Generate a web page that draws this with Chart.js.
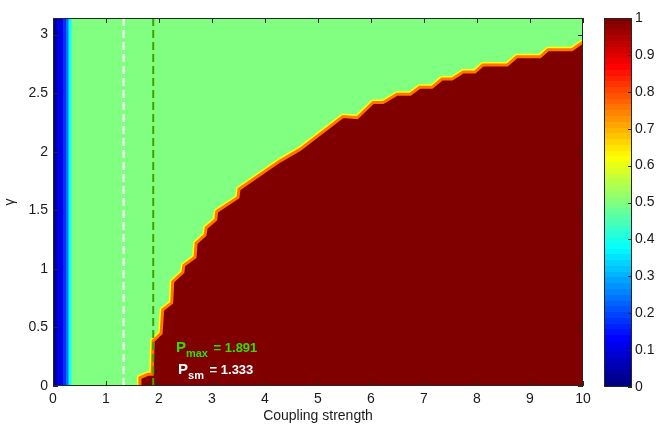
<!DOCTYPE html>
<html>
<head>
<meta charset="utf-8">
<script src="https://cdn.jsdelivr.net/npm/chart.js@4.4.0/dist/chart.umd.min.js"></script>
<style>
  html, body { margin: 0; padding: 0; background: #fff; }
  #wrap { position: relative; width: 657px; height: 425px; }
  #main { position: absolute; left: 0; top: 0; }
  #bar { position: absolute; left: 590px; top: 0; }
</style>
</head>
<body>
<div id="wrap">
  <canvas id="main" width="600" height="425" style="width:600px;height:425px"></canvas>
  <canvas id="bar" width="67" height="425" style="width:67px;height:425px"></canvas>
</div>
<script>
// ---- data ----
const GAMMA_MAX = Math.PI;
const xTicks = [0, 1, 2, 3, 4, 5, 6, 7, 8, 9, 10];
const yTicks = [0, 0.5, 1, 1.5, 2, 2.5, 3];
const cbTicks = [0, 0.1, 0.2, 0.3, 0.4, 0.5, 0.6, 0.7, 0.8, 0.9, 1];

// edge of the region where the map value is 1 (coupling, gamma)
const edgeX = [1.64, 1.64, 1.79, 1.87, 1.89, 2.04, 2.07, 2.24, 2.26, 2.45, 2.47, 2.68, 2.70,
  2.87, 2.89, 3.07, 3.09, 3.49, 3.51, 4.28, 4.66, 5.47, 5.74, 6.04, 6.23, 6.49, 6.74, 6.92,
  7.15, 7.34, 7.53, 7.74, 7.96, 8.11, 8.57, 8.75, 9.19, 9.34, 9.79, 9.98, 10];
const edgeGamma = [0, 0.07, 0.10, 0.10, 0.385, 0.45, 0.65, 0.71, 0.89, 0.97, 1.03, 1.10, 1.22,
  1.29, 1.35, 1.42, 1.49, 1.61, 1.68, 1.92, 2.02, 2.30, 2.29, 2.42, 2.42, 2.49, 2.49, 2.55,
  2.55, 2.62, 2.62, 2.68, 2.68, 2.74, 2.74, 2.81, 2.81, 2.87, 2.87, 2.93, 2.93];

// low-coupling strip (column edges and map values)
const stripX = [0, 0.08, 0.19, 0.25, 0.28, 0.31, 0.34, 0.36];
const stripValue = [0.03, 0.1, 0.17, 0.24, 0.31, 0.38, 0.45];

const backgroundValue = 0.5;
const lockedValue = 1;
const pSm = 1.333;
const pMax = 1.891;

// ---- helpers ----
function jet(v) {
  const c = t => Math.round(255 * Math.max(0, Math.min(1, 1.5 - Math.abs(4 * v - t))));
  return 'rgb(' + c(3) + ',' + c(2) + ',' + c(1) + ')';
}

const FONT = "'Liberation Sans', Arial, Helvetica, sans-serif";
const INK = '#1a1a1a';

// MATLAB style box with inward ticks
const frameTicks = {
  id: 'frameTicks',
  afterDatasetsDraw(chart, args, opts) {
    const { ctx, chartArea: a } = chart;
    const len = opts.len || 5;
    ctx.save();
    ctx.strokeStyle = '#262626';
    ctx.lineWidth = 1;
    ctx.beginPath();
    if (opts.x) {
      chart.scales.x.ticks.forEach(t => {
        const px = Math.round(chart.scales.x.getPixelForValue(t.value)) + 0.5;
        ctx.moveTo(px, a.bottom); ctx.lineTo(px, a.bottom - len);
        ctx.moveTo(px, a.top); ctx.lineTo(px, a.top + len);
      });
    }
    chart.scales.y.ticks.forEach(t => {
      const py = Math.round(chart.scales.y.getPixelForValue(t.value)) + 0.5;
      if (opts.left) { ctx.moveTo(a.left, py); ctx.lineTo(a.left + len, py); }
      if (opts.right) { ctx.moveTo(a.right, py); ctx.lineTo(a.right - len, py); }
    });
    ctx.stroke();
    ctx.strokeRect(Math.round(a.left) + 0.5, Math.round(a.top) + 0.5,
      Math.round(a.width) - 1, Math.round(a.height) - 1);
    ctx.restore();
  }
};

// text labels for the two marked couplings
const notes = [
  { x: 2.32, y: 0.29, sub: 'max', value: pMax, color: '#33dd00' },
  { x: 2.36, y: 0.10, sub: 'sm', value: pSm, color: '#ffffff' }
];
const notePlugin = {
  id: 'notes',
  afterDatasetsDraw(chart) {
    const { ctx, scales } = chart;
    ctx.save();
    ctx.textBaseline = 'alphabetic';
    notes.forEach(n => {
      let px = scales.x.getPixelForValue(n.x);
      const py = scales.y.getPixelForValue(n.y);
      ctx.fillStyle = n.color;
      ctx.font = 'bold 15px ' + FONT;
      ctx.fillText('P', px, py);
      px += ctx.measureText('P').width;
      ctx.font = 'bold 11px ' + FONT;
      ctx.fillText(n.sub, px, py + 5);
      px += ctx.measureText(n.sub).width;
      ctx.font = 'bold 13px ' + FONT;
      ctx.fillText(' = ' + n.value.toFixed(3), px + 2, py);
    });
    ctx.restore();
  }
};

// ---- main map ----
const line = { pointRadius: 0, tension: 0, clip: 0, borderWidth: 0 };
const datasets = [];
datasets.push(Object.assign({}, line, {
  data: [{ x: 0, y: GAMMA_MAX }, { x: 10, y: GAMMA_MAX }],
  backgroundColor: jet(backgroundValue), fill: 'origin', order: 10
}));
// strip as one filled band, banded horizontally via the x scale
datasets.push(Object.assign({}, line, {
  data: [{ x: stripX[0], y: GAMMA_MAX }, { x: stripX[stripX.length - 1], y: GAMMA_MAX }],
  fill: 'origin', order: 9,
  backgroundColor(c) {
    const { chartArea, scales } = c.chart;
    if (!chartArea) return jet(stripValue[0]);
    const x0 = scales.x.getPixelForValue(stripX[0]);
    const x1 = scales.x.getPixelForValue(stripX[stripX.length - 1]);
    const g = c.chart.ctx.createLinearGradient(x0, 0, x1, 0);
    const span = stripX[stripX.length - 1] - stripX[0];
    stripValue.forEach((v, i) => {
      g.addColorStop((stripX[i] - stripX[0]) / span, jet(v));
      g.addColorStop((stripX[i + 1] - stripX[0]) / span, jet(v));
    });
    return g;
  }
}));
const edge = edgeX.map((x, i) => ({ x: x, y: edgeGamma[i] }));
datasets.push(Object.assign({}, line, {
  data: edge, borderColor: jet(0.625), borderWidth: 6, fill: false, order: 8
}));
datasets.push(Object.assign({}, line, {
  data: edge, backgroundColor: jet(lockedValue), borderColor: jet(0.76), borderWidth: 3,
  fill: 'origin', order: 7
}));
datasets.push(Object.assign({}, line, {
  data: [{ x: pSm, y: GAMMA_MAX }, { x: pSm, y: 0 }],
  borderColor: '#ffffff', borderWidth: 2, borderDash: [8, 4], fill: false, order: 2
}));
datasets.push(Object.assign({}, line, {
  data: [{ x: pMax, y: GAMMA_MAX }, { x: pMax, y: 0 }],
  borderColor: '#44a000', borderWidth: 2, borderDash: [8, 4], fill: false, order: 1
}));

new Chart(document.getElementById('main'), {
  type: 'line',
  data: { datasets: datasets },
  options: {
    responsive: false,
    animation: false,
    layout: { padding: { top: 18, right: 17, left: 0, bottom: 0 } },
    plugins: {
      legend: { display: false },
      tooltip: { enabled: false },
      frameTicks: { x: true, left: true, right: true, len: 5 }
    },
    scales: {
      x: {
        type: 'linear', min: 0, max: 10,
        afterBuildTicks: s => { s.ticks = xTicks.map(v => ({ value: v })); },
        afterFit: s => { s.height = 39; },
        grid: { display: false, drawTicks: false },
        border: { display: false },
        ticks: { padding: 5, color: INK, font: { family: FONT, size: 14 }, maxRotation: 0,
          callback: v => String(v) },
        title: { display: true, text: 'Coupling strength', color: INK,
          font: { family: FONT, size: 14 }, padding: { top: 0, bottom: 0 } }
      },
      y: {
        type: 'linear', min: 0, max: GAMMA_MAX,
        afterBuildTicks: s => { s.ticks = yTicks.map(v => ({ value: v })); },
        afterFit: s => { s.width = 53; },
        grid: { display: false, drawTicks: false },
        border: { display: false },
        ticks: { padding: 5, color: INK, font: { family: FONT, size: 14 },
          callback: v => String(v) },
        title: { display: true, text: 'γ', color: INK,
          font: { family: FONT, size: 14 }, padding: { top: 2, bottom: 0 } }
      }
    }
  },
  plugins: [frameTicks, notePlugin]
});

// ---- colour bar ----
const levels = 64;
new Chart(document.getElementById('bar'), {
  type: 'bar',
  data: {
    labels: [''],
    datasets: [{
      data: [1],
      borderWidth: 0,
      barPercentage: 1,
      categoryPercentage: 1,
      backgroundColor(c) {
        const { chartArea, scales } = c.chart;
        if (!chartArea) return jet(0.5);
        const y0 = scales.y.getPixelForValue(0);
        const y1 = scales.y.getPixelForValue(1);
        const g = c.chart.ctx.createLinearGradient(0, y0, 0, y1);
        for (let i = 0; i < levels; i++) {
          const col = jet(i / (levels - 1));
          g.addColorStop(i / levels, col);
          g.addColorStop((i + 1) / levels, col);
        }
        return g;
      }
    }]
  },
  options: {
    responsive: false,
    animation: false,
    layout: { padding: { top: 18, left: 14, bottom: 38, right: 0 } },
    plugins: {
      legend: { display: false },
      tooltip: { enabled: false },
      frameTicks: { right: true, len: 4 }
    },
    scales: {
      x: { display: false },
      y: {
        position: 'right', min: 0, max: 1,
        afterBuildTicks: s => { s.ticks = cbTicks.map(v => ({ value: v })); },
        afterFit: s => { s.width = 25; },
        grid: { display: false, drawTicks: false },
        border: { display: false },
        ticks: { padding: 3, color: INK, font: { family: FONT, size: 14 },
          callback: v => String(v) }
      }
    }
  },
  plugins: [frameTicks]
});
</script>
</body>
</html>
